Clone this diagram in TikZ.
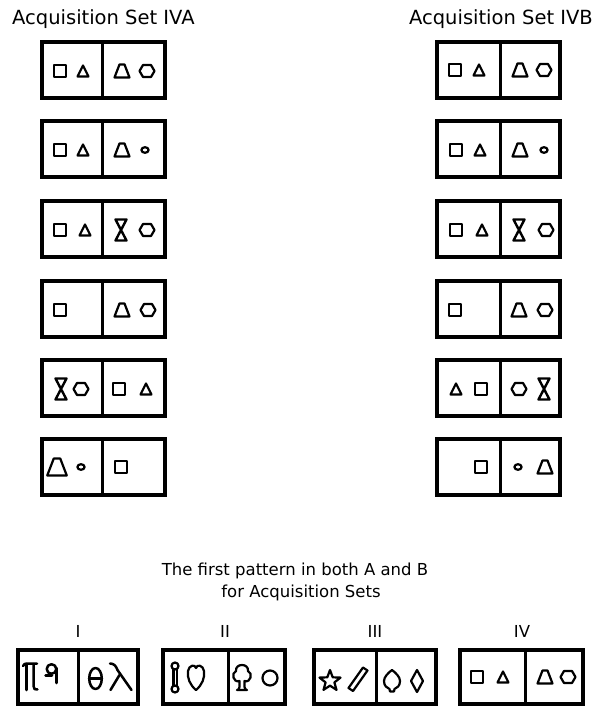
\documentclass[tikz,border=0pt]{standalone}
\usepackage{fontspec}
\setmainfont{DejaVu Sans}
\begin{document}
\begin{tikzpicture}[x=1pt,y=-1pt,
  frame/.style={line width=3.6pt},
  divl/.style={line width=3pt},
  shp/.style={line width=2.2pt,line join=round},
  glyph/.style={line width=2.5pt,line join=round,line cap=round},
  hdr/.style={font=\fontsize{19.5}{23}\selectfont, inner sep=0pt},
  captxt/.style={font=\fontsize{16.5}{20}\selectfont, inner sep=0pt, anchor=base},
  sqr/.pic={\draw[shp] (-6,-6) rectangle (6,6);},
  tri/.pic={\draw[shp] (-5.5,5.5) -- (0,-5.5) -- (5.5,5.5) -- cycle;},
  trap/.pic={\draw[shp] (-7.5,6.5) -- (-2.5,-6.5) -- (2.5,-6.5) -- (7.5,6.5) -- cycle;},
  hexa/.pic={\draw[shp] (-7.5,0) -- (-4,-6) -- (4,-6) -- (7.5,0) -- (4,6) -- (-4,6) -- cycle;},
  dotc/.pic={\draw[shp] (0,0) ellipse [x radius=3.6, y radius=2.8];},
  hglass/.pic={\draw[shp,line width=2.4pt] (-5.5,-10.5) -- (5.5,-10.5) -- (-5.5,10.5) -- (5.5,10.5) -- cycle;},
]
\useasboundingbox (0,0) rectangle (602,707);

% headers
\node[hdr, anchor=base west] (hA) at (12,24) {Acquisition Set IVA};
\node[hdr, anchor=base east] (hB) at (593,24) {Acquisition Set IVB};

% box frames of both columns
\foreach \t in {42,121,201,281,360,439}{
  \draw[frame] (42,\t) rectangle (165,{\t+56});
  \draw[divl] (102,\t) -- (102,{\t+56});
  \draw[frame] (437,\t) rectangle (560,{\t+56});
  \draw[divl] (500,\t) -- (500,{\t+56});
}

% row 1
\pic at (60,71) {sqr}; \pic at (83,71) {tri}; \pic at (122,71) {trap}; \pic at (147,71) {hexa};
\pic at (455,70) {sqr}; \pic at (479,70) {tri}; \pic at (520,70) {trap}; \pic at (544,70) {hexa};
% row 2
\pic at (60,150) {sqr}; \pic at (83,150) {tri}; \pic at (122,150) {trap}; \pic at (145,150) {dotc};
\pic at (456,150) {sqr}; \pic at (480,150) {tri}; \pic at (520,150) {trap}; \pic at (544,150) {dotc};
% row 3
\pic at (60,230) {sqr}; \pic at (85,230) {tri}; \pic at (121,230) {hglass}; \pic at (147,230) {hexa};
\pic at (456,230) {sqr}; \pic at (482,230) {tri}; \pic at (519,230) {hglass}; \pic at (546,230) {hexa};
% row 4
\pic at (60,310) {sqr}; \pic at (122,310) {trap}; \pic at (148,310) {hexa};
\pic at (455,310) {sqr}; \pic at (519,310) {trap}; \pic at (545,310) {hexa};
% row 5
\pic at (61,389) {hglass}; \pic at (81,389) {hexa}; \pic at (119,389) {sqr}; \pic at (146,389) {tri};
\pic at (456,389) {tri}; \pic at (481,389) {sqr}; \pic at (519,389) {hexa}; \pic at (544,389) {hglass};
% row 6
\pic[scale=1.3] at (57,467) {trap}; \pic at (81,467) {dotc}; \pic at (121,467) {sqr};
\pic at (481,467) {sqr}; \pic at (518,467) {dotc}; \pic at (545,467) {trap};

% caption
\node[captxt] (c1) at (295,575) {The first pattern in both A and B};
\node[captxt] (c2) at (301,597) {for Acquisition Sets};

% labels
\node[captxt] (l1) at (78,637) {I};
\node[captxt] (l2) at (225,637) {II};
\node[captxt] (l3) at (375,637) {III};
\node[captxt] (l4) at (522,637) {IV};

% bottom frames
\draw[frame] (18,650) rectangle (138,704);  \draw[divl] (78,650) -- (78,704);
\draw[frame] (163,650) rectangle (285,704); \draw[divl] (228,650) -- (228,704);
\draw[frame] (314,650) rectangle (436,704); \draw[divl] (376,650) -- (376,704);
\draw[frame] (460,650) rectangle (583,704); \draw[divl] (525,650) -- (525,704);

% box I
\draw[glyph] (23,666) .. controls (24,664) and (25,663.5) .. (27,663.5) -- (37,663.5);
\draw[glyph] (26.5,664) -- (26.5,690);
\draw[glyph] (33.5,664) -- (33.5,686) .. controls (33.5,689) and (35,690) .. (37.5,689.5);
\draw[glyph] (51.5,669) circle [radius=4.8];
\draw[glyph] (56.3,668) -- (56.3,683);
\draw[glyph] (45.5,675.5) -- (52,675.5);
\draw[glyph] (95.5,678.5) ellipse [x radius=6.3, y radius=10.5];
\draw[glyph] (89.2,678.5) -- (101.8,678.5);
\draw[glyph] (110,663.5) .. controls (114,663.5) and (116,666) .. (117.5,670) -- (131.5,690);
\draw[glyph] (119.5,675) -- (110.5,690);

% box II
\draw[shp] (175,666) circle [radius=3.5];
\draw[shp] (175,689) circle [radius=3.5];
\draw[shp] (173.4,669.3) -- (173.4,685.7);
\draw[shp] (176.6,669.3) -- (176.6,685.7);
\draw[shp] (196,690) .. controls (190,685) and (187,678) .. (188,671)
  .. controls (189,665) and (195,664) .. (196,668)
  .. controls (197,664) and (203,665) .. (204,671)
  .. controls (205,678) and (202,685) .. (196,690) -- cycle;
\draw[shp] (239.5,681) .. controls (233,683) and (231,673) .. (236,671)
  .. controls (235,663) and (249,663) .. (248,671)
  .. controls (253,673) and (251,683) .. (244.5,681)
  -- (244.5,687) .. controls (245,689) and (246,690) .. (247,690)
  -- (237,690) .. controls (238,690) and (239.5,689) .. (239.5,687) -- cycle;
\draw[shp] (270,678) circle [radius=7.5];

% box III
\draw[shp] (330,670) -- (332.7,677.3) -- (340.5,677.6) -- (334.4,682.4) -- (336.5,689.9)
  -- (330,685.6) -- (323.5,689.9) -- (325.6,682.4) -- (319.5,677.6) -- (327.3,677.3) -- cycle;
\draw[shp] (348.5,688) -- (363,667.5) -- (367.5,670.5) -- (353,691) -- cycle;
\draw[shp] (392,670) .. controls (388,673) and (384,677) .. (384,681)
  .. controls (384,686) and (387,688) .. (389.5,689) -- (390,691.5) -- (394,691.5) -- (394.5,689)
  .. controls (397,688) and (400,686) .. (400,681)
  .. controls (400,677) and (396,673) .. (392,670) -- cycle;
\draw[shp] (417,670) -- (423,681) -- (417,692) -- (411,681) -- cycle;

% box IV
\pic at (477,677) {sqr}; \pic at (503,677) {tri}; \pic at (545,677) {trap}; \pic at (568,677) {hexa};
\end{tikzpicture}
\end{document}
